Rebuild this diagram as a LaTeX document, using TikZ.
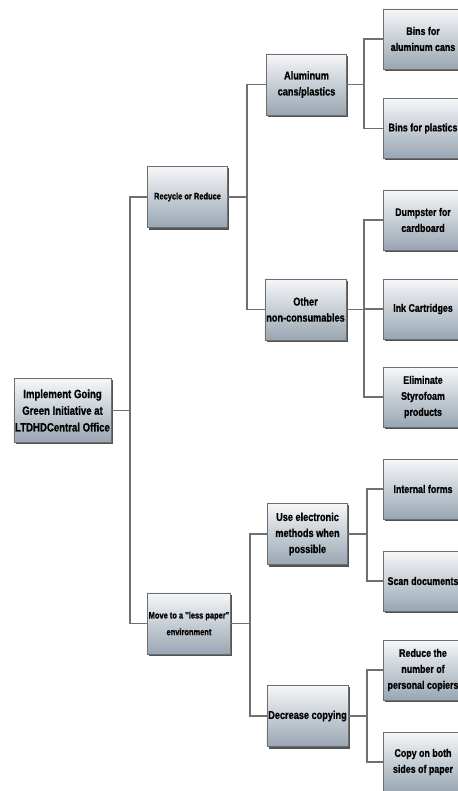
\documentclass[tikz,border=0pt]{standalone}
\usepackage{fontspec}
\setmainfont{Liberation Sans}
\newfontfamily\narrowfont[FakeStretch=0.8, BoldFeatures={FakeBold=0.8}]{Liberation Sans}
\usetikzlibrary{shadows}
\definecolor{boxtop}{RGB}{246,247,249}
\definecolor{boxbottom}{RGB}{152,166,178}
\definecolor{boxline}{RGB}{110,110,110}
\definecolor{linkgray}{RGB}{112,112,112}
\tikzset{
	box/.style={draw=boxline, line width=0.4pt, top color=boxtop, bottom color=boxbottom,
		drop shadow={shadow xshift=1.4pt, shadow yshift=-1.4pt, fill=black!75, opacity=0.9},
		align=center, inner sep=1pt, minimum width=60pt, minimum height=46pt,
		font=\narrowfont\bfseries\fontsize{8.6}{12}\selectfont},
	rootbox/.style={box, minimum width=71pt, minimum height=48pt,
		font=\narrowfont\bfseries\fontsize{9}{12.5}\selectfont},
	midbox/.style={box, font=\narrowfont\bfseries\fontsize{7}{12.5}\selectfont},
	leafbox/.style={box, minimum height=45pt, font=\narrowfont\bfseries\fontsize{8.3}{12}\selectfont},
	link/.style={draw=linkgray, line width=1pt}
}
\begin{document}
\begin{tikzpicture}[x=0.75pt, y=-0.75pt]
	\useasboundingbox (0,0) rectangle (457,791);
	\node [rootbox] (root) at (62.5,410.5) {Implement Going\\Green Initiative at\\LTDHDCentral Office};
	\node [midbox] (recycle) at (187.5,197) {Recycle or Reduce};
	\node [midbox] (lesspaper) at (189,623.5) {Move to a "less paper"\\environment};
	\node [box] (alum) at (306.5,84.5) {Aluminum\\cans/plastics};
	\node [box] (other) at (305.5,309.5) {Other\\non-consumables};
	\node [box] (elec) at (307.5,534) {Use electronic\\methods when\\possible};
	\node [box] (copying) at (307.5,716) {Decrease copying};
	\node [leafbox] (bins1) at (423,39) {Bins for\\aluminum cans};
	\node [leafbox] (bins2) at (423,128.5) {Bins for plastics};
	\node [leafbox] (dumpster) at (423,220) {Dumpster for\\cardboard};
	\node [leafbox] (ink) at (423,309) {Ink Cartridges};
	\node [leafbox] (styro) at (423,397) {Eliminate\\Styrofoam\\products};
	\node [leafbox] (forms) at (423,489) {Internal forms};
	\node [leafbox] (scan) at (423,581) {Scan documents};
	\node [leafbox] (copiers) at (423,670) {Reduce the\\number of\\personal copiers};
	\node [leafbox] (bothsides) at (423,762) {Copy on both\\sides of paper};
	\coordinate (j0) at (130,410.5);
	\coordinate (j1) at (247,197);
	\coordinate (j2) at (250,623.5);
	\coordinate (j3) at (364,84.5);
	\coordinate (j4) at (364,309.5);
	\coordinate (j5) at (367,534);
	\coordinate (j6) at (367,716);
	\draw [link] (root.east) -- (j0) |- (recycle.west);
	\draw [link] (j0) |- (lesspaper.west);
	\draw [link] (recycle.east) -- (j1) |- (alum.west);
	\draw [link] (j1) |- (other.west);
	\draw [link] (lesspaper.east) -- (j2) |- (elec.west);
	\draw [link] (j2) |- (copying.west);
	\draw [link] (alum.east) -- (j3) |- (bins1.west);
	\draw [link] (j3) |- (bins2.west);
	\draw [link] (other.east) -- (j4) |- (dumpster.west);
	\draw [link] (j4) |- (ink.west);
	\draw [link] (j4) |- (styro.west);
	\draw [link] (elec.east) -- (j5) |- (forms.west);
	\draw [link] (j5) |- (scan.west);
	\draw [link] (copying.east) -- (j6) |- (copiers.west);
	\draw [link] (j6) |- (bothsides.west);
\end{tikzpicture}
\end{document}
